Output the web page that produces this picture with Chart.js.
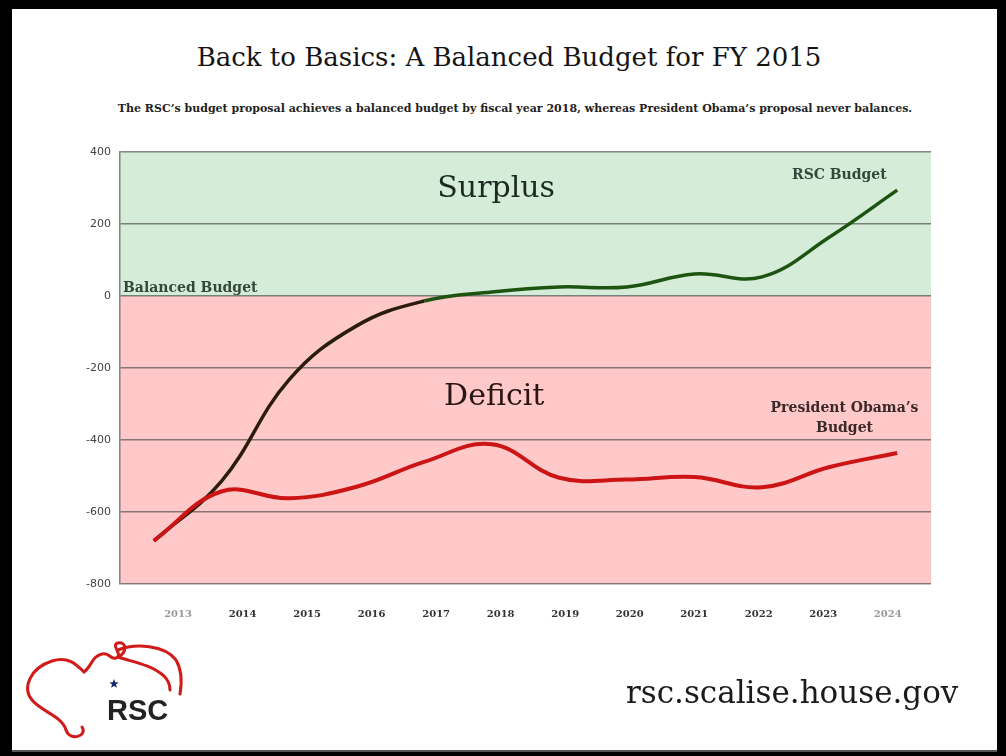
<!DOCTYPE html>
<html>
<head>
<meta charset="utf-8">
<script src="https://cdn.jsdelivr.net/npm/chart.js@4.4.1/dist/chart.umd.min.js"></script>
<style>
  body { margin: 0; width: 1006px; height: 756px; background: #000; position: relative; overflow: hidden; font-family: "DejaVu Serif", serif; }
  #page { position: absolute; left: 12px; top: 9px; width: 985px; height: 741px; background: #fff; border-bottom: 2px solid #555; }
  #title { position: absolute; left: 0; top: 42px; width: 1018px; text-align: center; font-size: 26px; line-height: 30px; color: #141414; }
  #sub { position: absolute; left: 0; top: 102px; width: 1030px; text-align: center; font-size: 11px; font-weight: bold; line-height: 14px; color: #222; }
  #chart { position: absolute; left: 0; top: 0; }
  #url { position: absolute; left: 626px; top: 672px; font-size: 31px; line-height: 40px; color: #1b1b1b; }
  #rsc { position: absolute; left: 107px; top: 693px; font-family: "Liberation Sans", Arial, sans-serif; font-weight: bold; font-size: 29px; line-height: 34px; color: #222; }
  #logo { position: absolute; left: 0; top: 0; }
</style>
</head>
<body>
<div id="page"></div>
<div id="title">Back to Basics: A Balanced Budget for FY 2015</div>
<div id="sub">The RSC’s budget proposal achieves a balanced budget by fiscal year 2018, whereas President Obama’s proposal never balances.</div>
<canvas id="chart" width="1006" height="756"></canvas>
<svg id="logo" width="1006" height="756">
  <path d="M 82 727 C 88 736, 70 742, 66 730 C 62 716, 42 712, 32 700 C 22 688, 30 668, 52 661 C 68 656, 76 664, 84 672 C 92 666, 92 656, 102 654 C 110 652, 110 660, 116 658 C 124 655, 110 645, 118 643 C 126 641, 128 652, 118 657 C 132 662, 150 664, 164 676 C 168 680, 170 686, 170 690 M 118 650 C 135 643, 165 645, 176 660 C 182 670, 182 682, 180 694"
        fill="none" stroke="#d11a1a" stroke-width="3" stroke-linecap="round"/>
  <polygon points="114,679 115.3,682.2 118.6,682.4 116,684.5 116.9,687.7 114,685.9 111.1,687.7 112,684.5 109.4,682.4 112.7,682.2" fill="#1b2a6b"/>
</svg>
<div id="rsc">RSC</div>
<div id="url">rsc.scalise.house.gov</div>

<script>
// fiscal years and deficit/surplus values (billions)
const years = ["2013", "2014", "2015", "2016", "2017", "2018", "2019", "2020", "2021", "2022", "2023", "2024"];
const rscBudget = [-680, -515, -233, -83, -14, 11, 25, 25, 61, 53, 164, 294];
const obamaBudget = [-680, -543, -562, -530, -461, -412, -505, -510, -503, -531, -475, -436];
const yTicks = [400, 200, 0, -200, -400, -600, -800];

// shaded surplus / deficit zones plus the text labels inside the plot
const zones = {
    id: "zones",
    beforeDraw(chart) {
        const ctx = chart.ctx;
        const a = chart.chartArea;
        const y0 = chart.scales.y.getPixelForValue(0);
        ctx.save();
        ctx.fillStyle = "#d5ecd9";
        ctx.fillRect(a.left, a.top, a.right - a.left, y0 - a.top);
        ctx.fillStyle = "#ffc9c9";
        ctx.fillRect(a.left, y0, a.right - a.left, a.bottom - y0);
        ctx.restore();
    },
    afterDatasetsDraw(chart) {
        const ctx = chart.ctx;
        const xs = chart.scales.x2;
        const ys = chart.scales.y;
        ctx.save();
        ctx.textAlign = "center";
        ctx.textBaseline = "alphabetic";
        ctx.fillStyle = "#1c2a20";
        ctx.font = "30px 'DejaVu Serif'";
        ctx.fillText("Surplus", xs.getPixelForValue(2017.93), ys.getPixelForValue(275));
        ctx.fillStyle = "#2a1414";
        ctx.fillText("Deficit", xs.getPixelForValue(2017.9), ys.getPixelForValue(-303));

        ctx.font = "bold 14px 'DejaVu Serif'";
        ctx.fillStyle = "#34473b";
        ctx.textAlign = "left";
        ctx.fillText("Balanced Budget", chart.chartArea.left + 3, ys.getPixelForValue(11));
        ctx.textAlign = "center";
        ctx.fillText("RSC Budget", xs.getPixelForValue(2023.25), ys.getPixelForValue(325));
        ctx.fillStyle = "#3b2828";
        ctx.fillText("President Obama’s", xs.getPixelForValue(2023.33), ys.getPixelForValue(-322));
        ctx.fillText("Budget", xs.getPixelForValue(2023.33), ys.getPixelForValue(-378));
        ctx.restore();
    }
};

const gridColor = "rgba(70,70,70,0.65)";

const budgetChart = new Chart("chart", {
    type: "line",
    data: {
        labels: years,
        datasets: [{
            label: "President Obama's Budget",
            data: obamaBudget,
            borderColor: "#cc1414",
            borderWidth: 4,
            tension: 0.4,
            pointRadius: 0,
            fill: false
        }, {
            label: "RSC Budget",
            data: rscBudget,
            borderColor: "#1e5412",
            borderWidth: 3.5,
            tension: 0.4,
            pointRadius: 0,
            fill: false,
            segment: {
                borderColor: ctx => ctx.p1.parsed.y < 0 ? "#2b1d0d" : "#1e5412"
            }
        }]
    },
    options: {
        responsive: false,
        animation: false,
        devicePixelRatio: 1,
        layout: { padding: { left: 70, right: 75, top: 152, bottom: 132 } },
        plugins: {
            legend: { display: false },
            tooltip: { enabled: false }
        },
        scales: {
            x: {
                type: "category",
                display: false,
                offset: true
            },
            x2: {
                type: "linear",
                position: "bottom",
                min: 2012.1,
                max: 2024.67,
                afterBuildTicks: s => { s.ticks = years.map(v => ({ value: Number(v) })); },
                afterFit: s => { s.height = 40; },
                grid: { display: false, drawTicks: false },
                border: { display: false },
                ticks: {
                    padding: 24,
                    maxRotation: 0,
                    autoSkip: false,
                    font: { family: "DejaVu Serif", size: 10, weight: "bold" },
                    color: c => (c.tick.value === 2013 || c.tick.value === 2024) ? "#9a9a9a" : "#333",
                    callback: v => String(v)
                }
            },
            y: {
                min: -800,
                max: 400,
                afterBuildTicks: s => { s.ticks = yTicks.map(v => ({ value: v })); },
                afterFit: s => { s.width = 50; },
                grid: { color: gridColor, lineWidth: 1.5, drawTicks: false },
                border: { display: true, color: gridColor, width: 1.5 },
                ticks: {
                    padding: 9,
                    font: { family: "DejaVu Sans", size: 11 },
                    color: "#444",
                    callback: v => String(v)
                }
            }
        }
    },
    plugins: [zones]
});
console.log("chart area", budgetChart.chartArea);
</script>
</body>
</html>
